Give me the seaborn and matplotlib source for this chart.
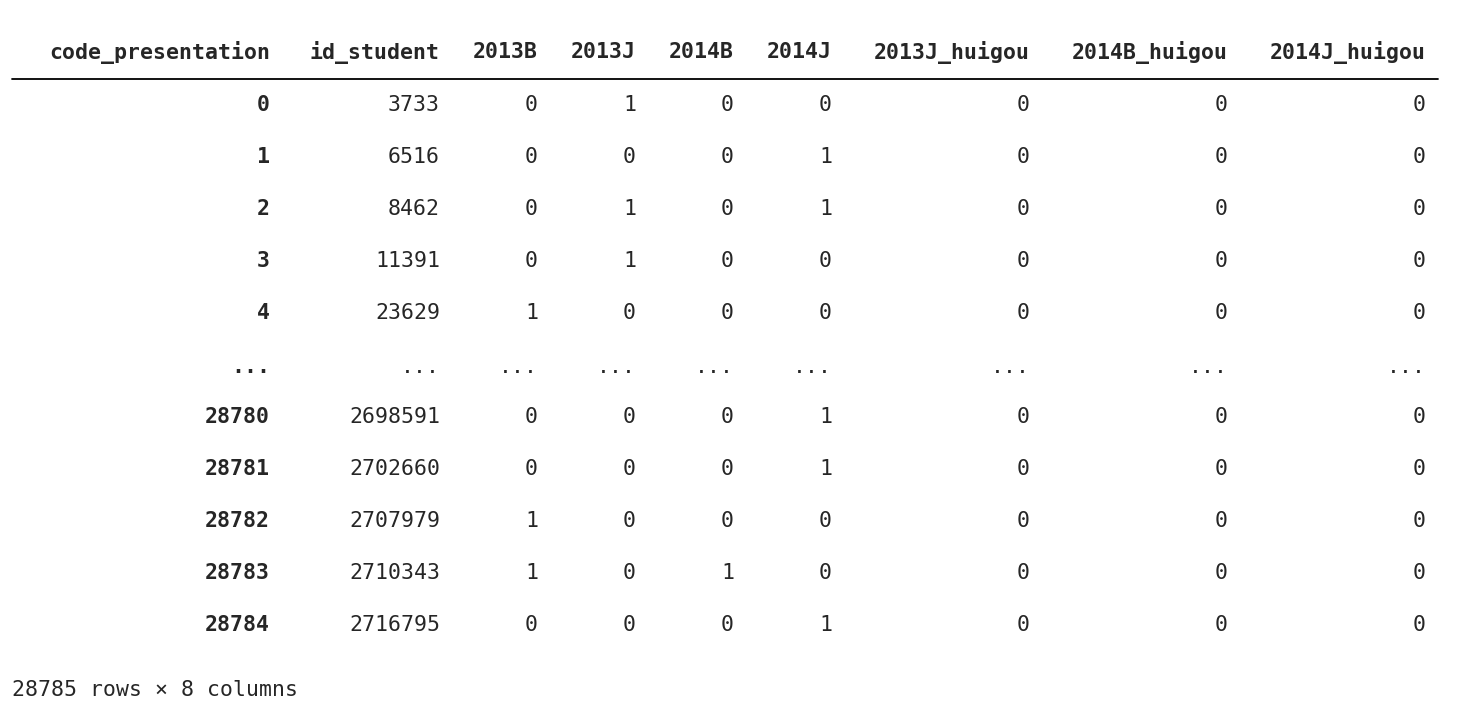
import matplotlib
matplotlib.use("Agg")
import matplotlib.pyplot as plt
import seaborn as sns

# table content
columns = ["code_presentation", "id_student", "2013B", "2013J", "2014B", "2014J",
           "2013J_huigou", "2014B_huigou", "2014J_huigou"]
index_labels = ["0", "1", "2", "3", "4", "...", "28780", "28781", "28782", "28783", "28784"]
id_student = ["3733", "6516", "8462", "11391", "23629", "...",
              "2698591", "2702660", "2707979", "2710343", "2716795"]
col_2013B = ["0", "0", "0", "0", "1", "...", "0", "0", "1", "1", "0"]
col_2013J = ["1", "0", "1", "1", "0", "...", "0", "0", "0", "0", "0"]
col_2014B = ["0", "0", "0", "0", "0", "...", "0", "0", "0", "1", "0"]
col_2014J = ["0", "1", "1", "0", "0", "...", "1", "1", "0", "0", "1"]
col_2013J_h = ["0"] * 5 + ["..."] + ["0"] * 5
col_2014B_h = ["0"] * 5 + ["..."] + ["0"] * 5
col_2014J_h = ["0"] * 5 + ["..."] + ["0"] * 5
footer = "28785 rows × 8 columns"

sns.set_theme(style="white")
plt.rcParams['font.family'] = ['DejaVu Sans Mono']

W, H = 1470, 722
fig = plt.figure(figsize=(W / 100, H / 100), dpi=100)
ax = fig.add_axes([0, 0, 1, 1])
ax.set_xlim(0, W)
ax.set_ylim(H, 0)
ax.axis('off')

right_edges = [270, 440, 538, 636, 734, 832, 1030, 1228, 1426]
row_y = [105, 157, 209, 261, 313, 367, 417, 469, 521, 573, 625]
fs = 15.5

for x, name in zip(right_edges, columns):
    ax.text(x, 52, name, ha='right', va='center', fontsize=fs, fontweight='bold')
ax.plot([12, 1438], [79, 79], color='black', lw=1.3)

body = [id_student, col_2013B, col_2013J, col_2014B, col_2014J,
        col_2013J_h, col_2014B_h, col_2014J_h]
for i, y in enumerate(row_y):
    ax.text(right_edges[0], y, index_labels[i], ha='right', va='center',
            fontsize=fs, fontweight='bold')
    for x, col in zip(right_edges[1:], body):
        ax.text(x, y, col[i], ha='right', va='center', fontsize=fs)

ax.text(12, 690, footer, ha='left', va='center', fontsize=fs)

fig.savefig("out.png", dpi=100)
